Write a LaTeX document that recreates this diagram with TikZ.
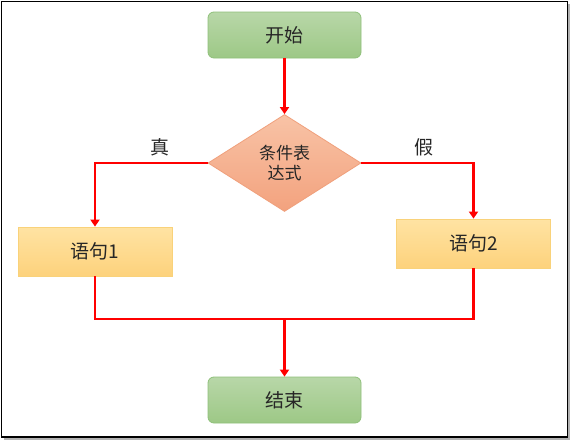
\documentclass[tikz,border=0pt]{standalone}
\usepackage{fontspec}
\setmainfont{Noto Sans CJK SC}
\usetikzlibrary{shapes.geometric,arrows.meta}
\definecolor{gtop}{HTML}{B8D7A8}
\definecolor{gbot}{HTML}{9DC886}
\definecolor{gline}{HTML}{8FC07A}
\definecolor{otop}{HTML}{F8C3A6}
\definecolor{obot}{HTML}{F3A27E}
\definecolor{oline}{HTML}{F0A07C}
\definecolor{ytop}{HTML}{FFE3A3}
\definecolor{ybot}{HTML}{FDD27C}
\definecolor{yline}{HTML}{F9D27A}
\tikzset{
  x=1pt, y=-1pt,
  txt/.style={font=\fontsize{19}{22}\selectfont, text=black!85},
  termbox/.style={txt, draw=gline, line width=0.8pt, rounded corners=6pt, top color=gtop, bottom color=gbot, minimum width=153pt, minimum height=46pt, inner sep=0pt},
  stmtbox/.style={txt, draw=yline, line width=0.8pt, top color=ytop, bottom color=ybot, minimum width=154pt, minimum height=49pt, inner sep=0pt},
  condbox/.style={txt, diamond, draw=oline, line width=0.8pt, top color=otop, bottom color=obot, minimum width=153pt, minimum height=97pt, inner sep=0pt, align=center, font=\fontsize{17}{20}\selectfont},
  flow/.style={draw=red, line width=2.2pt},
  flowarrow/.style={flow, -{Triangle[length=7pt,width=9pt]}},
  lbl/.style={txt}
}
\begin{document}
\begin{tikzpicture}
\useasboundingbox (0,0) rectangle (571,442);
\fill[white] (0,0) rectangle (571,442);
% frame with shadow
\draw[gray!60, line width=2pt] (4,439) -- (569,439) -- (569,4);
\draw[black, line width=1.6pt] (1.5,1.5) rectangle (567.5,437);

\node[termbox] (start) at (284.5,35) {开始};
\node[condbox] (cond) at (284.5,163) {条件表\\达式};
\node[stmtbox] (s1) at (95,251.5) {语句1};
\node[stmtbox] (s2) at (473.5,243.5) {语句2};
\node[termbox] (end) at (284.5,400) {结束};

\coordinate (j1) at (95,319);
\coordinate (j2) at (473.5,319);
\coordinate (jm) at (284.5,319);

\draw[flowarrow] (start.south) -- (cond.north);
\draw[flowarrow] (cond.west) -| (s1.north);
\draw[flowarrow] (cond.east) -| (s2.north);
\draw[flow] (s1.south) -- (j1) -- (j2) -- (s2.south);
\draw[flowarrow] (jm) -- (end.north);

\node[lbl] (t) at (160,147) {真};
\node[lbl] (f) at (424,147) {假};
\end{tikzpicture}
\end{document}
